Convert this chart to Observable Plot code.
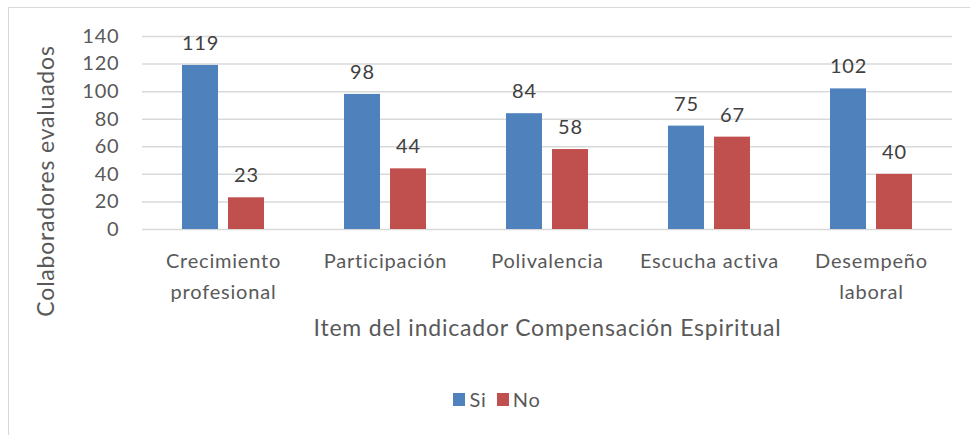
<!DOCTYPE html>
<html>
<head>
<meta charset="utf-8">
<script src="https://cdn.jsdelivr.net/npm/d3@7"></script>
<script src="https://cdn.jsdelivr.net/npm/@observablehq/plot@0.6"></script>
<style>
  html, body { margin: 0; padding: 0; background: #ffffff; }
  #wrap { position: relative; width: 970px; height: 435px; overflow: hidden; font-family: Lato, "Open Sans", sans-serif; }
  #frame { position: absolute; left: 8px; top: 7px; width: 980px; height: 450px; border: 1.5px solid #d9d9d9; box-sizing: border-box; }
  #chart { position: absolute; left: 0; top: 0; }
  #legend { position: absolute; top: 387px; left: 0; width: 970px; display: flex; justify-content: center; gap: 10px; font-size: 20px; letter-spacing: 0.8px; color: #595959; padding-left: 24px; box-sizing: border-box; }
  #legend .item { display: flex; align-items: center; gap: 4px; }
  #legend .sw { width: 12px; height: 13px; display: inline-block; }
  #chart svg text { letter-spacing: 0.8px; }
</style>
</head>
<body>
<div id="wrap">
  <div id="frame"></div>
  <div id="chart"></div>
  <div id="legend"></div>
</div>
<script>
const categories = ["Crecimiento profesional", "Participación", "Polivalencia", "Escucha activa", "Desempeño laboral"];
const tickLabels = ["Crecimiento\nprofesional", "Participación", "Polivalencia", "Escucha activa", "Desempeño\nlaboral"];
const series = ["Si", "No"];
const siValues = [119, 98, 84, 75, 102];
const noValues = [23, 44, 58, 67, 40];
const yTicks = [0, 20, 40, 60, 80, 100, 120, 140];
const colors = ["#4f81bd", "#c0504d"];
const yTitle = "Colaboradores evaluados";
const xTitle = "Item del indicador Compensación Espiritual";

const data = categories.flatMap((c, i) => [
  {category: c, series: series[0], value: siValues[i]},
  {category: c, series: series[1], value: noValues[i]}
]);

const H = 370;
const chart = Plot.plot({
  width: 970,
  height: H,
  marginLeft: 141,
  marginRight: 17,
  marginTop: 36,
  marginBottom: H - 229,
  style: {fontFamily: "Lato, 'Open Sans', sans-serif", fontSize: "20px", color: "#595959", background: "transparent"},
  fx: {domain: categories, padding: 0, axis: null, label: null},
  x: {domain: series, paddingInner: 0.21, paddingOuter: 0.83, axis: null},
  y: {domain: [0, 140], axis: null},
  color: {domain: series, range: colors},
  marks: [
    Plot.gridY(yTicks, {stroke: "#d9d9d9", strokeOpacity: 1, strokeWidth: 1.5}),
    Plot.axisY(yTicks, {tickSize: 0, tickPadding: 23, label: null, fill: "#595959"}),
    Plot.axisFx({anchor: "bottom", tickSize: 0, tickPadding: 16, label: null, lineHeight: 1.55, fill: "#595959",
      tickFormat: d => tickLabels[categories.indexOf(d)]}),
    Plot.barY(data, {fx: "category", x: "series", y: "value", fill: "series"}),
    Plot.text(data, {fx: "category", x: "series", y: "value", text: d => String(d.value), dy: -22, fill: "#404040", fontSize: 20}),
    Plot.text([{category: categories[0], t: yTitle}], {fx: "category", text: "t", frameAnchor: "left", textAnchor: "middle", rotate: -90, dx: -96, dy: 48, fontSize: 23, fill: "#595959"}),
    Plot.text([{category: categories[2], t: xTitle}], {fx: "category", text: "t", frameAnchor: "bottom", textAnchor: "middle", dy: 106, fontSize: 23, fill: "#595959"})
  ]
});
document.getElementById("chart").appendChild(chart);

const legend = document.getElementById("legend");
series.forEach((s, i) => {
  const item = document.createElement("div");
  item.className = "item";
  const sw = document.createElement("span");
  sw.className = "sw";
  sw.style.background = colors[i];
  const label = document.createElement("span");
  label.textContent = s;
  item.appendChild(sw);
  item.appendChild(label);
  legend.appendChild(item);
});
</script>
</body>
</html>
